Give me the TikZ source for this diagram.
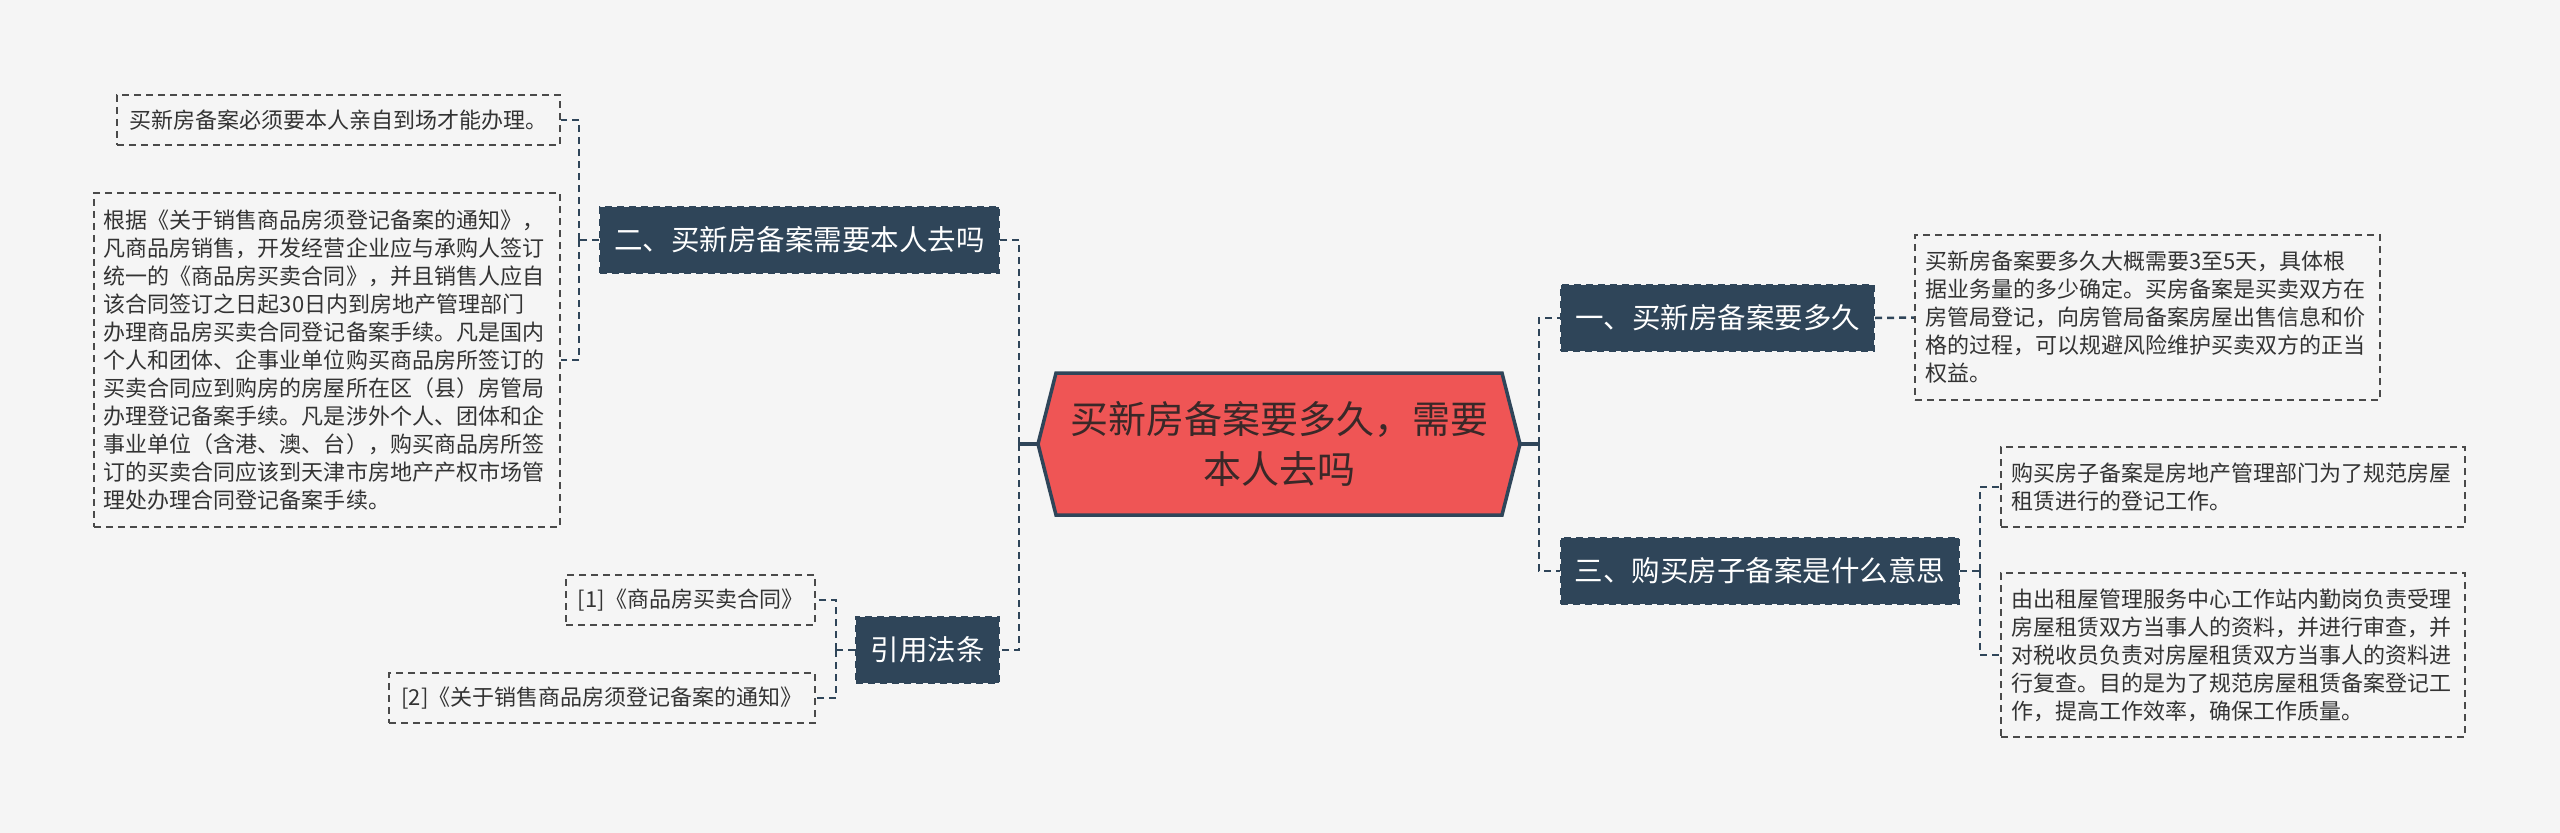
\documentclass[tikz,border=0pt]{standalone}
\usepackage{fontspec}
\setmainfont{Noto Sans CJK SC}
\definecolor{bg}{HTML}{F5F5F5}
\definecolor{navy}{HTML}{2F4559}
\definecolor{redc}{HTML}{EF5555}
\definecolor{ctext}{HTML}{3A2828}
\definecolor{leafline}{HTML}{4A4A4A}
\definecolor{leaftext}{HTML}{333333}
\begin{document}
\begin{tikzpicture}[x=0.4pt,y=-0.4pt,
  branch/.style={fill=navy, draw=navy, dash pattern=on 2.8pt off 2pt, line width=0.8pt, text=white,
    font=\fontsize{11.4pt}{14pt}\selectfont, minimum height=26.4pt, inner sep=0pt, align=center},
  leaf/.style={draw=leafline, dash pattern=on 2.8pt off 2pt, line width=0.8pt, text=leaftext,
    font=\fontsize{8.8pt}{11.2pt}\selectfont, inner ysep=0pt, inner xsep=4pt, align=left},
  leafone/.style={leaf, inner xsep=0pt, align=center, minimum height=20pt},
  conn/.style={draw=navy, line width=1pt, dash pattern=on 2.8pt off 2pt},
  stub/.style={draw=navy, line width=1.4pt}]
\useasboundingbox[fill=bg] (0,0) rectangle (2560,833);
% central hexagon
\draw[fill=redc, draw=navy, line width=1.4pt] (1038,444) -- (1056,373) -- (1502,373) -- (1520,444) -- (1502,515) -- (1056,515) -- cycle;
\node[minimum width=192.8pt, minimum height=56.8pt, inner sep=0pt, align=center, text=ctext,
  font=\fontsize{15.2pt}{20pt}\selectfont] (c) at (1279,444) {买新房备案要多久，需要\\本人去吗};
% branches
\node[branch, minimum width=159.6pt] (b2) at (799.5,240) {二、买新房备案需要本人去吗};
\node[branch, minimum width=57.2pt] (b4) at (927.5,650) {引用法条};
\node[branch, minimum width=125.2pt] (b1) at (1717.5,318) {一、买新房备案要多久};
\node[branch, minimum width=159.2pt] (b3) at (1760,571) {三、购买房子备案是什么意思};
% leaves of 二
\node[leafone, minimum width=177.2pt] (l2a) at (338.5,120) {买新房备案必须要本人亲自到场才能办理。};
\node[leaf, text width=178.4pt, minimum height=133.6pt] (l2b) at (327,360) {根据《关于销售商品房须登记备案的通知》，\\凡商品房销售，开发经营企业应与承购人签订\\统一的《商品房买卖合同》，并且销售人应自\\该合同签订之日起30日内到房地产管理部门\\办理商品房买卖合同登记备案手续。凡是国内\\个人和团体、企事业单位购买商品房所签订的\\买卖合同应到购房的房屋所在区（县）房管局\\办理登记备案手续。凡是涉外个人、团体和企\\事业单位（含港、澳、台），购买商品房所签\\订的买卖合同应该到天津市房地产产权市场管\\理处办理合同登记备案手续。};
% leaves of 引用法条
\node[leafone, minimum width=99.6pt] (l4a) at (690.5,600) {[1]《商品房买卖合同》};
\node[leafone, minimum width=170.4pt] (l4b) at (602,698) {[2]《关于销售商品房须登记备案的通知》};
% leaf of 一
\node[leaf, text width=178pt, minimum height=66pt] (l1) at (2147.5,317.5) {买新房备案要多久大概需要3至5天，具体根\\据业务量的多少确定。买房备案是买卖双方在\\房管局登记，向房管局备案房屋出售信息和价\\格的过程，可以规避风险维护买卖双方的正当\\权益。};
% leaves of 三
\node[leaf, text width=177.6pt, minimum height=32pt] (l3a) at (2233,487) {购买房子备案是房地产管理部门为了规范房屋\\租赁进行的登记工作。};
\node[leaf, text width=177.6pt, minimum height=65.6pt] (l3b) at (2233,655) {由出租屋管理服务中心工作站内勤岗负责受理\\房屋租赁双方当事人的资料，并进行审查，并\\对税收员负责对房屋租赁双方当事人的资料进\\行复查。目的是为了规范房屋租赁备案登记工\\作，提高工作效率，确保工作质量。};
% trunk coordinates
\coordinate (lt) at (1019,444);
\coordinate (rt) at (1539,444);
\coordinate (t2) at (579,240);
\coordinate (t4) at (836,650);
\coordinate (t3) at (1980,571);
% connectors
\draw[stub] (c.west) -- (lt);
\draw[stub] (c.east) -- (rt);
\draw[conn] (lt) |- (b2.east);
\draw[conn] (lt) |- (b4.east);
\draw[conn] (rt) |- (b1.west);
\draw[conn] (rt) |- (b3.west);
\draw[conn] (b2.west) -- (t2);
\draw[conn] (t2) |- (l2a.east);
\draw[conn] (t2) |- (l2b.east);
\draw[conn] (b4.west) -- (t4);
\draw[conn] (t4) |- (l4a.east);
\draw[conn] (t4) |- (l4b.east);
\draw[conn] (b1.east) -- (l1.west);
\draw[conn] (b3.east) -- (t3);
\draw[conn] (t3) |- (l3a.west);
\draw[conn] (t3) |- (l3b.west);
\end{tikzpicture}
\end{document}
